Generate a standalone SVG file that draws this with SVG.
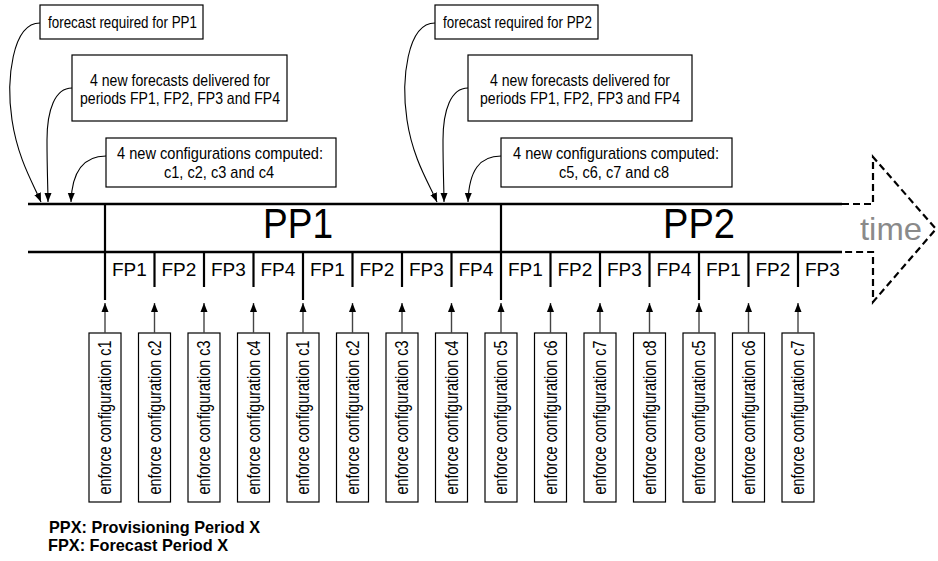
<svg xmlns="http://www.w3.org/2000/svg" width="938" height="561" viewBox="0 0 938 561">
<style>
.box{fill:#fff;stroke:#000;stroke-width:1.2}
.t{font-family:"Liberation Sans",Arial,sans-serif;font-size:17px;fill:#000}
.v{font-family:"Liberation Sans",Arial,sans-serif;font-size:18px;fill:#000}
.fp{font-family:"Liberation Sans",Arial,sans-serif;font-size:19px;fill:#000}
.pp{font-family:"Liberation Sans",Arial,sans-serif;font-size:43px;fill:#000}
.time{font-family:"Liberation Sans",Arial,sans-serif;font-size:32px;fill:#8a8a8a}
.leg{font-family:"Liberation Sans",Arial,sans-serif;font-size:17px;font-weight:bold;fill:#000}
.main{stroke:#000;stroke-width:2.5;fill:none}
.div{stroke:#000;stroke-width:2.2;fill:none}
.dash{stroke:#000;stroke-width:2.2;fill:none;stroke-dasharray:7,4}
.curve{stroke:#000;stroke-width:1.1;fill:none;marker-end:url(#ah)}
.up{stroke:#444;stroke-width:1.4;fill:none;marker-end:url(#ah)}
</style>
<defs>
<marker id="ah" markerUnits="userSpaceOnUse" markerWidth="10" markerHeight="10" viewBox="0 0 10 10" refX="9" refY="5" orient="auto">
<path d="M0,1.5 L9,5 L0,8.5 Z" fill="#000"/>
</marker>
</defs>

<g id="timeline">
<line class="main" x1="28" y1="204" x2="842" y2="204"/>
<line class="main" x1="28" y1="252" x2="842" y2="252"/>
<path class="dash" d="M842,204 H873 V157 L936,229 L873,302 V252 H842"/>
<line class="div" x1="105" y1="204" x2="105" y2="300"/>
<line class="div" x1="501" y1="204" x2="501" y2="300"/>
<line class="div" x1="303" y1="252" x2="303" y2="300"/>
<line class="div" x1="699" y1="252" x2="699" y2="300"/>
<line class="div" x1="154.5" y1="252" x2="154.5" y2="287"/>
<line class="div" x1="204" y1="252" x2="204" y2="287"/>
<line class="div" x1="253.5" y1="252" x2="253.5" y2="287"/>
<line class="div" x1="352.5" y1="252" x2="352.5" y2="287"/>
<line class="div" x1="402" y1="252" x2="402" y2="287"/>
<line class="div" x1="451.5" y1="252" x2="451.5" y2="287"/>
<line class="div" x1="550.5" y1="252" x2="550.5" y2="287"/>
<line class="div" x1="600" y1="252" x2="600" y2="287"/>
<line class="div" x1="649.5" y1="252" x2="649.5" y2="287"/>
<line class="div" x1="748.5" y1="252" x2="748.5" y2="287"/>
<line class="div" x1="798" y1="252" x2="798" y2="287"/>
<text class="pp" x="298" y="238" text-anchor="middle" textLength="70" lengthAdjust="spacingAndGlyphs">PP1</text>
<text class="pp" x="699" y="238" text-anchor="middle" textLength="72" lengthAdjust="spacingAndGlyphs">PP2</text>
<text class="time" x="860" y="240" textLength="62" lengthAdjust="spacingAndGlyphs">time</text>
<text class="fp" x="112" y="276">FP1</text>
<text class="fp" x="161.5" y="276">FP2</text>
<text class="fp" x="211" y="276">FP3</text>
<text class="fp" x="260.5" y="276">FP4</text>
<text class="fp" x="310" y="276">FP1</text>
<text class="fp" x="359.5" y="276">FP2</text>
<text class="fp" x="409" y="276">FP3</text>
<text class="fp" x="458.5" y="276">FP4</text>
<text class="fp" x="508" y="276">FP1</text>
<text class="fp" x="557.5" y="276">FP2</text>
<text class="fp" x="607" y="276">FP3</text>
<text class="fp" x="656.5" y="276">FP4</text>
<text class="fp" x="706" y="276">FP1</text>
<text class="fp" x="755.5" y="276">FP2</text>
<text class="fp" x="805" y="276">FP3</text>
</g>

<g id="note-pp1-required">
<rect class="box" x="40" y="5" width="163" height="34"/>
<text class="t" x="48" y="28" textLength="149" lengthAdjust="spacingAndGlyphs">forecast required for PP1</text>
</g>
<g id="note-pp1-forecasts">
<rect class="box" x="72" y="55" width="215" height="66"/>
<text class="t" x="180" y="86" text-anchor="middle" textLength="180" lengthAdjust="spacingAndGlyphs">4 new forecasts delivered for</text>
<text class="t" x="180" y="104" text-anchor="middle" textLength="200" lengthAdjust="spacingAndGlyphs">periods FP1, FP2, FP3 and FP4</text>
</g>
<g id="note-pp1-configs">
<rect class="box" x="106" y="138" width="230" height="49"/>
<text class="t" x="220" y="159" text-anchor="middle" textLength="206" lengthAdjust="spacingAndGlyphs">4 new configurations computed:</text>
<text class="t" x="219" y="178" text-anchor="middle" textLength="110" lengthAdjust="spacingAndGlyphs">c1, c2, c3 and c4</text>
</g>
<g id="note-pp2-required">
<rect class="box" x="435" y="5" width="163" height="34"/>
<text class="t" x="443" y="28" textLength="149" lengthAdjust="spacingAndGlyphs">forecast required for PP2</text>
</g>
<g id="note-pp2-forecasts">
<rect class="box" x="468" y="55" width="224" height="66"/>
<text class="t" x="580" y="86" text-anchor="middle" textLength="180" lengthAdjust="spacingAndGlyphs">4 new forecasts delivered for</text>
<text class="t" x="580" y="104" text-anchor="middle" textLength="200" lengthAdjust="spacingAndGlyphs">periods FP1, FP2, FP3 and FP4</text>
</g>
<g id="note-pp2-configs">
<rect class="box" x="501" y="138" width="231" height="49"/>
<text class="t" x="616" y="159" text-anchor="middle" textLength="206" lengthAdjust="spacingAndGlyphs">4 new configurations computed:</text>
<text class="t" x="614" y="178" text-anchor="middle" textLength="110" lengthAdjust="spacingAndGlyphs">c5, c6, c7 and c8</text>
</g>

<g id="enforce-boxes">
<g id="e1"><rect class="box" x="89" y="333" width="32" height="169"/><text class="v" transform="translate(111,417.5) rotate(-90)" text-anchor="middle" textLength="154" lengthAdjust="spacingAndGlyphs">enforce configuration c1</text></g>
<g id="e2"><rect class="box" x="138.5" y="333" width="32" height="169"/><text class="v" transform="translate(160.5,417.5) rotate(-90)" text-anchor="middle" textLength="154" lengthAdjust="spacingAndGlyphs">enforce configuration c2</text></g>
<g id="e3"><rect class="box" x="188" y="333" width="32" height="169"/><text class="v" transform="translate(210,417.5) rotate(-90)" text-anchor="middle" textLength="154" lengthAdjust="spacingAndGlyphs">enforce configuration c3</text></g>
<g id="e4"><rect class="box" x="237.5" y="333" width="32" height="169"/><text class="v" transform="translate(259.5,417.5) rotate(-90)" text-anchor="middle" textLength="154" lengthAdjust="spacingAndGlyphs">enforce configuration c4</text></g>
<g id="e5"><rect class="box" x="287" y="333" width="32" height="169"/><text class="v" transform="translate(309,417.5) rotate(-90)" text-anchor="middle" textLength="154" lengthAdjust="spacingAndGlyphs">enforce configuration c1</text></g>
<g id="e6"><rect class="box" x="336.5" y="333" width="32" height="169"/><text class="v" transform="translate(358.5,417.5) rotate(-90)" text-anchor="middle" textLength="154" lengthAdjust="spacingAndGlyphs">enforce configuration c2</text></g>
<g id="e7"><rect class="box" x="386" y="333" width="32" height="169"/><text class="v" transform="translate(408,417.5) rotate(-90)" text-anchor="middle" textLength="154" lengthAdjust="spacingAndGlyphs">enforce configuration c3</text></g>
<g id="e8"><rect class="box" x="435.5" y="333" width="32" height="169"/><text class="v" transform="translate(457.5,417.5) rotate(-90)" text-anchor="middle" textLength="154" lengthAdjust="spacingAndGlyphs">enforce configuration c4</text></g>
<g id="e9"><rect class="box" x="485" y="333" width="32" height="169"/><text class="v" transform="translate(507,417.5) rotate(-90)" text-anchor="middle" textLength="154" lengthAdjust="spacingAndGlyphs">enforce configuration c5</text></g>
<g id="e10"><rect class="box" x="534.5" y="333" width="32" height="169"/><text class="v" transform="translate(556.5,417.5) rotate(-90)" text-anchor="middle" textLength="154" lengthAdjust="spacingAndGlyphs">enforce configuration c6</text></g>
<g id="e11"><rect class="box" x="584" y="333" width="32" height="169"/><text class="v" transform="translate(606,417.5) rotate(-90)" text-anchor="middle" textLength="154" lengthAdjust="spacingAndGlyphs">enforce configuration c7</text></g>
<g id="e12"><rect class="box" x="633.5" y="333" width="32" height="169"/><text class="v" transform="translate(655.5,417.5) rotate(-90)" text-anchor="middle" textLength="154" lengthAdjust="spacingAndGlyphs">enforce configuration c8</text></g>
<g id="e13"><rect class="box" x="683" y="333" width="32" height="169"/><text class="v" transform="translate(705,417.5) rotate(-90)" text-anchor="middle" textLength="154" lengthAdjust="spacingAndGlyphs">enforce configuration c5</text></g>
<g id="e14"><rect class="box" x="732.5" y="333" width="32" height="169"/><text class="v" transform="translate(754.5,417.5) rotate(-90)" text-anchor="middle" textLength="154" lengthAdjust="spacingAndGlyphs">enforce configuration c6</text></g>
<g id="e15"><rect class="box" x="782" y="333" width="32" height="169"/><text class="v" transform="translate(804,417.5) rotate(-90)" text-anchor="middle" textLength="154" lengthAdjust="spacingAndGlyphs">enforce configuration c7</text></g>
</g>

<g id="connectors">
<path class="curve" d="M40,23 C12,23 6,80 12,120 C18,160 34,185 41,202"/>
<path class="curve" d="M72,88 C55,88 47,110 47,140 C47,170 48,190 48,202"/>
<path class="curve" d="M106,156 C85,156 72,170 71,202"/>
<path class="curve" d="M435,23 C407,23 401,80 407,120 C413,160 430,185 437,202"/>
<path class="curve" d="M468,88 C451,88 443,110 443,140 C443,170 444,190 444,202"/>
<path class="curve" d="M501,156 C480,156 469,170 468,202"/>
<line class="up" x1="105" y1="333" x2="105" y2="303"/>
<line class="up" x1="154.5" y1="333" x2="154.5" y2="303"/>
<line class="up" x1="204" y1="333" x2="204" y2="303"/>
<line class="up" x1="253.5" y1="333" x2="253.5" y2="303"/>
<line class="up" x1="303" y1="333" x2="303" y2="303"/>
<line class="up" x1="352.5" y1="333" x2="352.5" y2="303"/>
<line class="up" x1="402" y1="333" x2="402" y2="303"/>
<line class="up" x1="451.5" y1="333" x2="451.5" y2="303"/>
<line class="up" x1="501" y1="333" x2="501" y2="303"/>
<line class="up" x1="550.5" y1="333" x2="550.5" y2="303"/>
<line class="up" x1="600" y1="333" x2="600" y2="303"/>
<line class="up" x1="649.5" y1="333" x2="649.5" y2="303"/>
<line class="up" x1="699" y1="333" x2="699" y2="303"/>
<line class="up" x1="748.5" y1="333" x2="748.5" y2="303"/>
<line class="up" x1="798" y1="333" x2="798" y2="303"/>
</g>

<g id="legend">
<text class="leg" x="49" y="533" textLength="211" lengthAdjust="spacingAndGlyphs">PPX: Provisioning Period X</text>
<text class="leg" x="48" y="551" textLength="180" lengthAdjust="spacingAndGlyphs">FPX: Forecast Period X</text>
</g>
</svg>
